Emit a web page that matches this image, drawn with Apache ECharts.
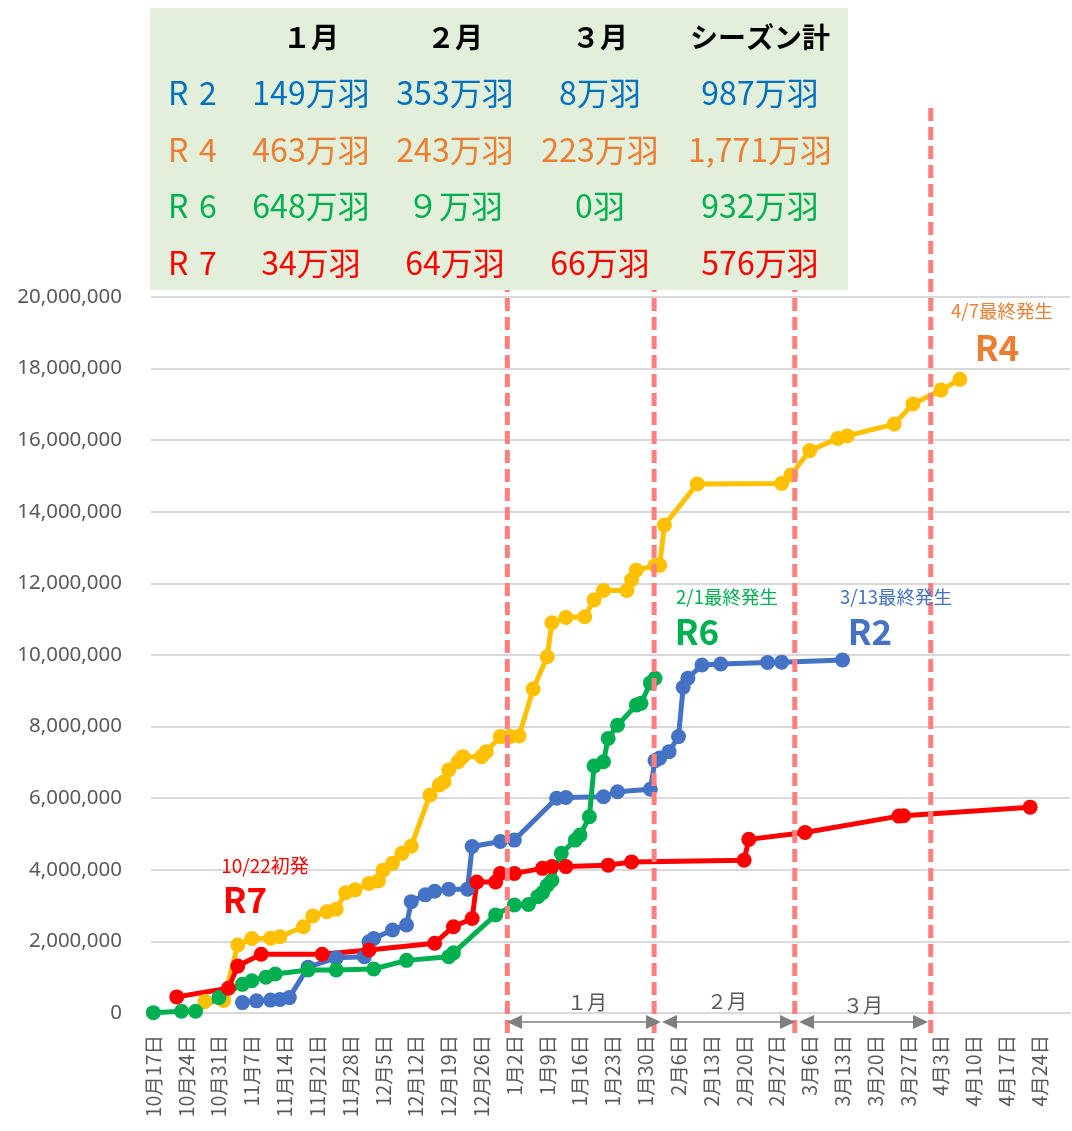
<!DOCTYPE html>
<html>
<head>
<meta charset="utf-8">
<script src="https://cdn.jsdelivr.net/npm/echarts@6/dist/echarts.min.js"></script>
<style>
  html, body { margin: 0; padding: 0; background: #fff; }
  #main { width: 1072px; height: 1131px; }
</style>
</head>
<body>
<div id="main"></div>
<script>
// 各シーズンの累計殺処分数
var r2Dates = ['11/5','11/8','11/11','11/13','11/15','11/19','11/25','12/1','12/2','12/3','12/7','12/10','12/11','12/14','12/16','12/19','12/23','12/24','12/30','1/2','1/11','1/13','1/21','1/24','1/31','2/1','2/2','2/4','2/6','2/7','2/8','2/11','2/15','2/25','2/28','3/13'];
var r2Values = [290000,340000,360000,380000,430000,1280000,1540000,1570000,1990000,2080000,2320000,2460000,3110000,3300000,3400000,3460000,3460000,4650000,4790000,4830000,6000000,6020000,6040000,6180000,6250000,7050000,7120000,7300000,7720000,9100000,9350000,9720000,9750000,9790000,9800000,9860000];

var r4Dates = ['10/28','11/1','11/4','11/7','11/11','11/13','11/18','11/20','11/23','11/25','11/27','11/29','12/2','12/4','12/5','12/7','12/9','12/11','12/15','12/17','12/18','12/19','12/21','12/22','12/26','12/27','12/30','1/1','1/3','1/6','1/9','1/10','1/13','1/17','1/19','1/21','1/26','1/27','1/28','2/1','2/2','2/3','2/10','2/28','3/2','3/6','3/12','3/14','3/24','3/28','4/3','4/7'];
var r4Values = [320000,350000,1900000,2080000,2090000,2130000,2410000,2710000,2830000,2900000,3360000,3440000,3620000,3690000,3990000,4180000,4460000,4660000,6090000,6370000,6460000,6790000,7020000,7160000,7160000,7300000,7720000,7720000,7740000,9050000,9950000,10900000,11050000,11070000,11540000,11800000,11800000,12100000,12370000,12500000,12510000,13630000,14780000,14790000,15030000,15710000,16050000,16120000,16450000,17010000,17400000,17700000];

var r6Dates = ['10/17','10/23','10/26','10/31','11/5','11/7','11/10','11/12','11/19','11/25','12/3','12/10','12/19','12/20','12/29','1/2','1/5','1/7','1/8','1/9','1/10','1/12','1/15','1/16','1/18','1/19','1/21','1/22','1/24','1/28','1/29','1/31','2/1'];
var r6Values = [10000,50000,50000,430000,800000,900000,1000000,1090000,1200000,1200000,1230000,1470000,1570000,1680000,2740000,3020000,3030000,3250000,3360000,3560000,3700000,4460000,4830000,4970000,5480000,6900000,7020000,7670000,8040000,8600000,8650000,9220000,9350000];

var r7Dates = ['10/22','11/2','11/4','11/9','11/22','12/2','12/16','12/20','12/24','12/25','12/29','12/30','1/2','1/8','1/10','1/13','1/22','1/27','2/20','2/21','3/5','3/25','3/26','4/22'];
var r7Values = [450000,690000,1310000,1640000,1640000,1760000,1950000,2410000,2640000,3660000,3660000,3900000,3900000,4040000,4090000,4090000,4130000,4220000,4270000,4850000,5040000,5500000,5510000,5750000];

// 目盛り（1週間ごと）
var tickDates = ['10/17','10/24','10/31','11/7','11/14','11/21','11/28','12/5','12/12','12/19','12/26','1/2','1/9','1/16','1/23','1/30','2/6','2/13','2/20','2/27','3/6','3/13','3/20','3/27','4/3','4/10','4/17','4/24'];

// 表
var tableHeader = ['１月', '２月', '３月', 'シーズン計'];
var tableRows = [
  ['R\u20042', '149万羽', '353万羽', '8万羽', '987万羽'],
  ['R\u20044', '463万羽', '243万羽', '223万羽', '1,771万羽'],
  ['R\u20046', '648万羽', '９万羽', '0羽', '932万羽'],
  ['R\u20047', '34万羽', '64万羽', '66万羽', '576万羽']
];
var rowColors = ['#0070C0', '#ED7D31', '#00B050', '#FF0000'];

// 10/17 からの日数
function dayIndex(md) {
  var p = md.split('/');
  var m = +p[0], d = +p[1];
  var y = m >= 10 ? 2000 : 2001;
  return (Date.UTC(y, m - 1, d) - Date.UTC(2000, 9, 17)) / 86400000;
}
function toPoints(dates, values) {
  return dates.map(function (d, i) { return [dayIndex(d), values[i]]; });
}
var tickLabel = {};
tickDates.forEach(function (d) {
  var p = d.split('/');
  tickLabel[dayIndex(d)] = p[0] + '月' + p[1] + '日';
});

var chart = echarts.init(document.getElementById('main'));

function lineSeries(name, color, dates, values) {
  return {
    name: name,
    type: 'line',
    data: toPoints(dates, values),
    symbol: 'circle',
    symbolSize: 15,
    lineStyle: { color: color, width: 5 },
    itemStyle: { color: color },
    clip: false
  };
}

var option = {
  animation: false,
  backgroundColor: '#fff',
  grid: { left: 151, right: 2, top: 297, bottom: 118 },
  xAxis: {
    type: 'value',
    min: -0.5,
    max: 195.5,
    axisLine: { show: true, lineStyle: { color: '#D9D9D9', width: 2 } },
    axisTick: { show: false },
    splitLine: { show: false },
    axisLabel: {
      customValues: tickDates.map(dayIndex),
      rotate: 90,
      margin: 22,
      color: '#595959',
      fontSize: 19.5,
      fontFamily: 'Noto Sans CJK JP',
      formatter: function (v) { return tickLabel[v] || ''; }
    }
  },
  yAxis: {
    type: 'value',
    min: 0,
    max: 20000000,
    interval: 2000000,
    axisLine: { show: false },
    axisTick: { show: false },
    splitLine: { lineStyle: { color: '#D9D9D9', width: 2 } },
    axisLabel: {
      margin: 29,
      color: '#595959',
      fontSize: 20.5,
      fontFamily: 'Noto Sans',
      formatter: function (v) { return v.toLocaleString('en-US'); }
    }
  },
  series: [
    lineSeries('R2', '#4472C4', r2Dates, r2Values),
    lineSeries('R4', '#FFC000', r4Dates, r4Values),
    lineSeries('R6', '#00B050', r6Dates, r6Values),
    lineSeries('R7', '#FF0000', r7Dates, r7Values)
  ]
};
chart.setOption(option);

// 月の区切り線（破線）
var monthLineDays = [75.5, 106.8, 136.8, 165.8];
var graphics = [];
monthLineDays.forEach(function (d) {
  var x = chart.convertToPixel({ xAxisIndex: 0 }, d);
  graphics.push({
    type: 'line', z: 100,
    shape: { x1: x, y1: 108, x2: x, y2: 1036 },
    style: { stroke: '#FF7F7F', lineWidth: 5, lineDash: [13, 6] }
  });
});

// 月の矢印
function arrow(x1, x2, y) {
  var c = '#7F7F7F';
  graphics.push({ type: 'line', z: 101, shape: { x1: x1 + 8, y1: y, x2: x2 - 8, y2: y }, style: { stroke: c, lineWidth: 1.5 } });
  graphics.push({ type: 'polygon', z: 101, shape: { points: [[x1, y], [x1 + 15, y - 7], [x1 + 15, y + 7]] }, style: { fill: c } });
  graphics.push({ type: 'polygon', z: 101, shape: { points: [[x2, y], [x2 - 15, y - 7], [x2 - 15, y + 7]] }, style: { fill: c } });
}
arrow(507, 661, 1022);
arrow(662, 795, 1022);
arrow(799, 928, 1022);

function text(str, x, y, size, color, bold, align) {
  graphics.push({
    type: 'text', z: 120, x: x, y: y,
    style: {
      text: str, fill: color, fontSize: size,
      fontWeight: bold ? 'bold' : 'normal',
      fontFamily: 'Noto Sans CJK JP',
      align: align || 'center', verticalAlign: 'middle'
    }
  });
}
text('１月', 587, 1002, 20, '#595959');
text('２月', 727, 1001, 20, '#595959');
text('３月', 863, 1005, 20, '#595959');

// 注記
text('10/22初発', 265, 866, 19, '#FF0000');
text('R7', 245, 900, 35, '#FF0000', true);
text('2/1最終発生', 727, 597, 18.5, '#00B050');
text('R6', 697, 632, 35, '#00B050', true);
text('3/13最終発生', 896, 597, 18.5, '#4472C4');
text('R2', 870, 632, 35, '#4472C4', true);
text('4/7最終発生', 1002, 311, 18.5, '#ED7D31');
text('R4', 997, 348, 35, '#ED7D31', true);

// 表
graphics.push({
  type: 'rect', z: 110,
  shape: { x: 150, y: 8, width: 698, height: 282 },
  style: { fill: '#E2EFDA' }
});
var colX = [168, 311, 455, 600, 760];
var rowY = [93, 150, 206, 263];
tableHeader.forEach(function (h, i) {
  text(h, colX[i + 1], 37, 28, '#000000', true);
});
tableRows.forEach(function (row, r) {
  row.forEach(function (cell, c) {
    text(cell, colX[c], rowY[r], 32, rowColors[r], false, c === 0 ? 'left' : 'center');
  });
});

chart.setOption({ graphic: { elements: graphics } });
</script>
</body>
</html>
